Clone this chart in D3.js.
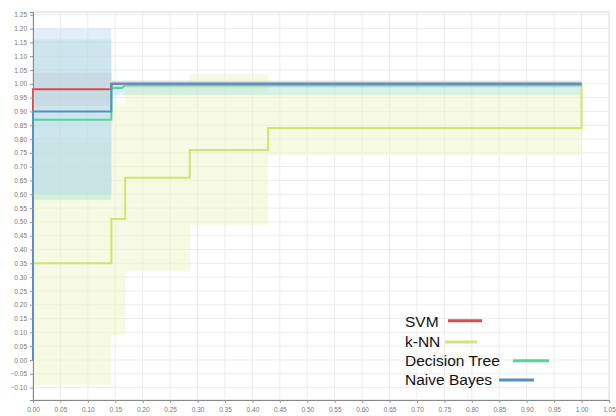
<!DOCTYPE html>
<html><head><meta charset="utf-8">
<script src="https://cdn.jsdelivr.net/npm/d3@7"></script>
<style>body{margin:0;background:#fff}svg{display:block}</style>
</head><body>
<svg id="c" width="616" height="416"></svg>
<script>
const seriesNames = ["k-NN", "SVM", "Decision Tree", "Naive Bayes"];
const seriesColors = ["#d5e26e", "#d0504c", "#55d39c", "#5590c4"];
const bandColors = ["#eef6cc", "#dba9a6", "#9fdcd0", "#bcd8f0"];
const bandOpacity = [0.55, 0.35, 0.38, 0.45];

// step-curve points [x, y] per series
const knnPts = [[0,0],[0,0.35],[1/7,0.35],[1/7,0.51],[0.168,0.51],[0.168,0.66],[2/7,0.66],[2/7,0.76],[3/7,0.76],[3/7,0.84],[1,0.84],[1,1.0]];
const svmPts = [[0,0],[0,0.98],[1/7,0.98],[1/7,1.0],[1,1.0]];
const dtPts  = [[0,0],[0,0.87],[1/7,0.87],[1/7,0.985],[0.162,0.985],[0.168,0.995],[1,0.995]];
const nbPts  = [[0,0],[0,0.90],[1/7,0.90],[1/7,1.0],[1,1.0]];

// confidence bands [x0, x1, low, high]
const knnBand = [[0,1/7,-0.09,0.79],[1/7,0.168,0.09,0.93],[0.168,2/7,0.32,1.0],[2/7,3/7,0.49,1.035],[3/7,1,0.74,0.97]];
const svmBand = [[0,1/7,0.92,1.04]];
const dtBand  = [[0,1/7,0.58,1.16],[1/7,1,0.96,1.01]];
const nbBand  = [[0,1/7,0.60,1.20],[1/7,1,0.985,1.012]];

const xTicks = d3.range(0, 22).map(i => i*0.05);
const yTicks = d3.range(-2, 26).map(i => i*0.05);

const svg = d3.select("#c");
const x = d3.scaleLinear().domain([0,1.05]).range([33,609]);
const y = d3.scaleLinear().domain([-0.145,1.26]).range([400,12]);

// frame + grid
svg.append("rect").attr("x",33).attr("y",12).attr("width",576).attr("height",388)
  .attr("fill","#fff").attr("stroke","#d6d6d6");
const g = svg.append("g");
g.selectAll(".gx").data(xTicks.slice(1)).join("line")
  .attr("x1",d=>x(d)).attr("x2",d=>x(d)).attr("y1",12).attr("y2",400)
  .attr("stroke","#ececec").attr("stroke-width",1);
g.selectAll(".gy").data(yTicks).join("line")
  .attr("x1",33).attr("x2",609).attr("y1",d=>y(d)).attr("y2",d=>y(d))
  .attr("stroke","#ececec").attr("stroke-width",1);

// bands
const bands = [knnBand, svmBand, dtBand, nbBand];
bands.forEach((b,i) => {
  svg.append("g").selectAll("rect").data(b).join("rect")
    .attr("x",d=>x(d[0])).attr("width",d=>x(d[1])-x(d[0]))
    .attr("y",d=>y(d[3])).attr("height",d=>y(d[2])-y(d[3]))
    .attr("fill",bandColors[i]).attr("fill-opacity",bandOpacity[i]);
});

// lines
const line = d3.line().x(d=>x(d[0])).y(d=>y(d[1]));
[knnPts, svmPts, dtPts, nbPts].forEach((p,i) => {
  svg.append("path").datum(p).attr("d",line).attr("fill","none")
    .attr("stroke",seriesColors[i]).attr("stroke-width",2);
});

// axes
const fmt = d3.format(".2f");
const xa = svg.append("g").attr("transform","translate(0,400)")
  .call(d3.axisBottom(x).tickValues(xTicks).tickFormat(fmt).tickSize(3));
const ya = svg.append("g").attr("transform","translate(33,0)")
  .call(d3.axisLeft(y).tickValues(yTicks).tickFormat(fmt).tickSize(3));
[xa, ya].forEach(a => {
  a.select(".domain").attr("stroke","#888");
  a.selectAll(".tick line").attr("stroke","#999");
  a.selectAll("text").attr("fill","#777").style("font-family","Liberation Sans, Arial, sans-serif").style("font-size","6.5px");
});
xa.selectAll("text").attr("dy","0.9em");

// legend
const legendOrder = ["SVM","k-NN","Decision Tree","Naive Bayes"];
const legendBase = [326.5, 347, 366, 385];
const legendLine = [[448,482,320.7],[445,477,342],[513,549,360.7],[499,534,380]];
legendOrder.forEach((name,k) => {
  const i = seriesNames.indexOf(name);
  svg.append("text").attr("x",405).attr("y",legendBase[k]).text(name)
    .attr("fill","#111").style("font-family","Liberation Sans, Arial, sans-serif").style("font-size","15.5px");
  svg.append("line").attr("x1",legendLine[k][0]).attr("x2",legendLine[k][1])
    .attr("y1",legendLine[k][2]).attr("y2",legendLine[k][2])
    .attr("stroke",seriesColors[i]).attr("stroke-width",3);
});
</script>
</body></html>
